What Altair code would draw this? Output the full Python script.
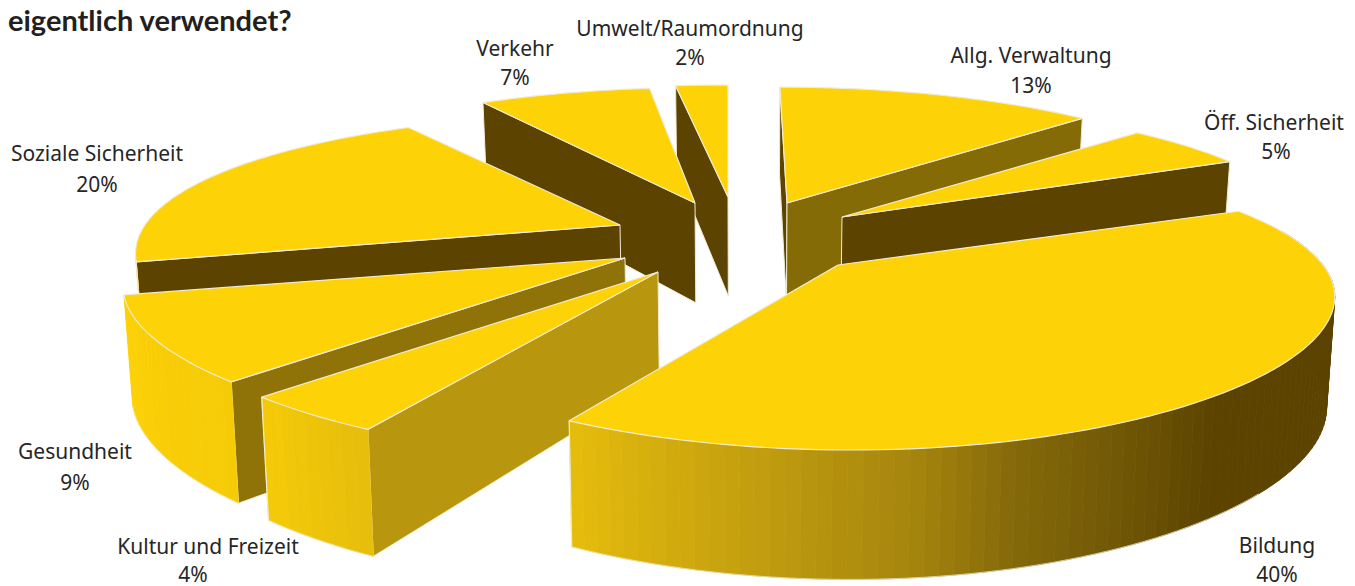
import math
import altair as alt
import pandas as pd

# --- values -----------------------------------------------------------------
labels = ["Allg. Verwaltung", "Öff. Sicherheit", "Bildung", "Kultur und Freizeit",
          "Gesundheit", "Soziale Sicherheit", "Verkehr", "Umwelt/Raumordnung"]
shares = [13, 5, 40, 4, 9, 20, 7, 2]
percent_text = [f"{s}%" for s in shares]

# explosion: where each slice's tip lands on the page
tip_x = [787, 842, 838, 658, 625, 620, 695, 728]
tip_y = [203, 217, 265, 272, 258, 225, 203, 197]
# small per-slice stretch of the radius, sideways and in depth
reach_x = [1, 1, 0.99, 1.012, 1.012, 1.01, 1, 1.07]
reach_y = [1.035, 1.03, 1, 1.01, 1, 1, 1.03, 1]
persp_x = [0.17, 0.17, 0.19, 0.17, 0.17, 0.17, 0.17, 0.17]
# which flat cut faces are seen: colour of the start / end cut (None = hidden)
start_cut = ["#5c4300", None, None, "#b8960e", "#8f7208", "#5c4300", "#5c4300", "#5c4300"]
end_cut = ["#856b06", "#5c4300", None, None, None, None, None, None]
draw_order = [7, 6, 0, 1, 5, 4, 3, 2]

label_x = [1031, 1274, 1277, 208, 75, 97, 515, 690]
label_y = [57, 124, 547, 548, 453, 155, 50, 30]
pct_x = [1031, 1276, 1277, 193, 75, 97, 515, 690]
pct_y = [87, 153, 576, 576, 484, 186, 79, 59]

title_line = "eigentlich verwendet?"

# rim shading by angle
shade_angle = [0, 140, 151, 164, 174, 184, 193, 209, 223, 255, 360]
shade_rgb = [(0x5c, 0x43, 0), (0x5c, 0x43, 0), (0x6e, 0x55, 5), (0x85, 0x69, 10),
             (0xa5, 0x85, 13), (0xb8, 0x95, 15), (0xc9, 0xa4, 15), (0xe6, 0xbd, 12),
             (0xf5, 0xcb, 8), (0xfd, 0xd1, 6), (0xfd, 0xd1, 6)]

TOP = "#fdd206"
EDGE = "#f1ebd3"
RX, RY, PY = 490, 139.5, 0.246


def shade(a):
    for i in range(len(shade_angle) - 1):
        if shade_angle[i] <= a <= shade_angle[i + 1]:
            t = (a - shade_angle[i]) / (shade_angle[i + 1] - shade_angle[i])
            c = [round(p + (q - p) * t) for p, q in zip(shade_rgb[i], shade_rgb[i + 1])]
            return "#%02x%02x%02x" % tuple(c)
    return TOP


def rim(i, a):
    t = math.radians(a)
    gx, gy = math.sin(t), -math.cos(t)
    s = (1 + (tip_y[i] - 265) * 0.001) * reach_x[i]
    x = tip_x[i] + s * RX * gx / (1 - persp_x[i] * gy) + (tip_x[i] - 728) * 0.12 * gy
    return (x, tip_y[i] + reach_y[i] * RY * gy / (1 - PY * gy))


def drop(p):
    x, y = p
    d = 100 + (y - 205) * 0.12
    return (x + (750 - x) * 0.014, y + d)


rows = []
pid = 0


def add(points, fill, stroke, width):
    global pid
    for v, (x, y) in enumerate(points):
        rows.append(dict(p=f"{pid:04d}", v=v, x=x, y=y, f=fill, s=stroke, w=width))
    pid += 1


starts, acc = [], 0
for s in shares:
    starts.append(acc * 3.6)
    acc += s

for i in draw_order:
    a0 = starts[i]
    a1 = a0 + shares[i] * 3.6
    n = max(2, int((a1 - a0) / 1.5))
    angles = [a0 + (a1 - a0) * k / n for k in range(n + 1)]
    tip = (tip_x[i], tip_y[i])
    # flat cut faces
    for col, a in ((start_cut[i], a0), (end_cut[i], a1)):
        if col:
            r = rim(i, a)
            add([tip, r, drop(r), drop(tip), tip], col, EDGE, 1)
    # rim wall
    vis = [a for a in angles if 75 <= a <= 258]
    for a, b in zip(vis, vis[1:]):
        ra, rb = rim(i, a), rim(i, b)
        c = shade((a + b) / 2)
        add([ra, rb, drop(rb), drop(ra), ra], c, c, 0.8)
    low = [a for a in vis if a >= 130]
    if len(low) > 1:
        add([drop(rim(i, a)) for a in low], "transparent", EDGE, 0.7)
    if vis and i != 4:
        r = rim(i, vis[-1])
        add([r, drop(r)], "transparent", EDGE, 1.2)
    # top surface
    add([tip] + [rim(i, a) for a in angles] + [tip], TOP, EDGE, 1.2)

df = pd.DataFrame(rows)
xs = alt.Scale(domain=[8, 1347], nice=False, zero=False)
ys = alt.Scale(domain=[586, 8], nice=False, zero=False)

shapes = alt.Chart(df).mark_line(interpolate="linear", strokeJoin="round").encode(
    x=alt.X("x:Q", scale=xs, axis=None),
    y=alt.Y("y:Q", scale=ys, axis=None),
    detail="p:N",
    order="v:Q",
    fill=alt.Fill("f:N", scale=None),
    stroke=alt.Stroke("s:N", scale=None),
    strokeWidth=alt.StrokeWidth("w:Q", scale=None),
)

text_df = pd.DataFrame(
    {"t": labels + percent_text, "x": label_x + pct_x, "y": label_y + pct_y}
)
texts = alt.Chart(text_df).mark_text(
    font="Noto Sans", fontSize=21, color="#262626", align="center", baseline="middle"
).encode(x=alt.X("x:Q", scale=xs, axis=None), y=alt.Y("y:Q", scale=ys, axis=None), text="t:N")

title_df = pd.DataFrame({"t": [title_line], "x": [8], "y": [31]})
title = alt.Chart(title_df).mark_text(
    font="Lato", fontSize=29, fontWeight="bold", color="#231f20", align="left", baseline="alphabetic"
).encode(x=alt.X("x:Q", scale=xs, axis=None), y=alt.Y("y:Q", scale=ys, axis=None), text="t:N")

chart = (shapes + texts + title).properties(
    width=1339, height=578, padding=0, autosize=alt.AutoSizeParams(type="none")
).configure_view(stroke=None)

chart.save("out.html", embed_options={"renderer": "svg", "actions": False})
